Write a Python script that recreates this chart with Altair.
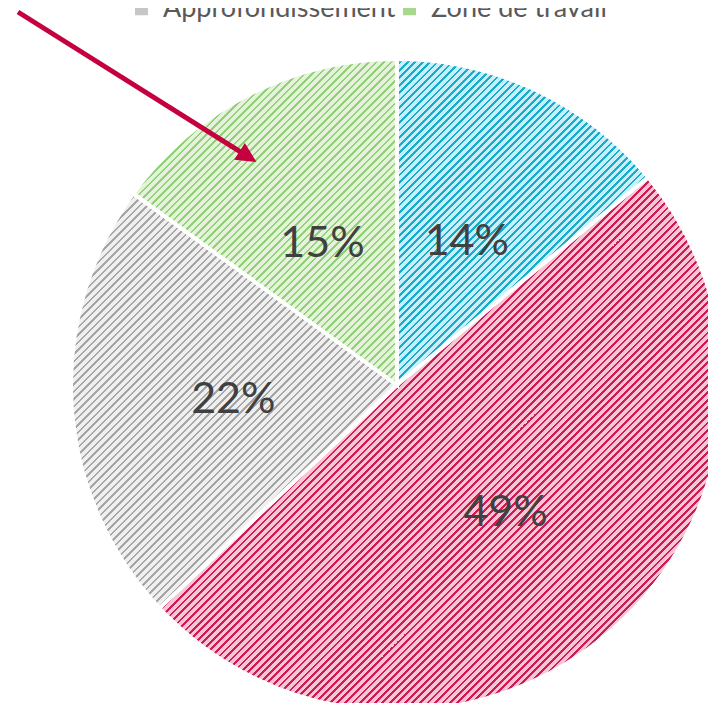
import math
import altair as alt
import pandas as pd

# ---- data ----
slice_names = ["Série 1", "Série 2", "Approfondissement", "Zone de travail"]
slice_values = [14, 49, 22, 15]
light_colors = ["#c8f0fa", "#f9c4d4", "#efefef", "#e4f3da"]
dark_colors = ["#19abcc", "#cf1a56", "#a6a6a6", "#93d07a"]
legend_names = ["Approfondissement", "Zone de travail"]
legend_colors = ["#c6c6c6", "#a6d98c"]

# ---- layout / style ----
W, H = 700, 695
CX, CY = 389, 377
R = 326
LABEL_R = 164
ARROW_COLOR = "#c5003e"
ARROW_START = (10, 4)
ARROW_HEAD = (240, 148.7)
ARROW_ANGLE = 32.1


def slice_bbox(a0, a1, r):
    pts = [(0.0, 0.0), (r * math.sin(a0), -r * math.cos(a0)), (r * math.sin(a1), -r * math.cos(a1))]
    for q in range(5):
        ang = q * math.pi / 2
        if a0 < ang < a1:
            pts.append((r * math.sin(ang), -r * math.cos(ang)))
    xs = [p[0] for p in pts]
    ys = [p[1] for p in pts]
    return max(xs) - min(xs), max(ys) - min(ys)


def hatch(light, dark, bw, bh, period=7.5, frac=0.34):
    k = (bw + bh) / (bw ** 2 + bh ** 2)
    n = (bw + bh) / period
    stops = []
    i = 0
    while True:
        a = i / n
        b = (i + 1 - frac) / n
        c = (i + 1) / n
        if a >= 1:
            break
        stops.append({"offset": round(a, 5), "color": light})
        stops.append({"offset": round(min(b, 1), 5), "color": light})
        if b < 1:
            stops.append({"offset": round(b, 5), "color": dark})
            stops.append({"offset": round(min(c, 1), 5), "color": dark})
        i += 1
    return {"gradient": "linear", "x1": 0, "y1": 0, "x2": k * bw, "y2": k * bh, "stops": stops}


total = sum(slice_values)
grads = []
acc = 0
for v, lc, dc in zip(slice_values, light_colors, dark_colors):
    a0 = acc / total * 2 * math.pi
    acc += v
    a1 = acc / total * 2 * math.pi
    bw, bh = slice_bbox(a0, a1, R)
    grads.append(hatch(lc, dc, bw, bh))

pie_df = pd.DataFrame({
    "idx": list(range(len(slice_names))),
    "cat": slice_names,
    "val": slice_values,
})

conds = [{"test": f"datum.idx === {i}", "value": grads[i]} for i in range(len(grads) - 1)]

base = alt.Chart(pie_df).encode(
    theta=alt.Theta("val:Q", stack=True),
    order=alt.Order("idx:Q"),
    detail="cat:N",
    x=alt.value(CX),
    y=alt.value(CY),
)

pie = base.mark_arc(radius=R, stroke="white", strokeWidth=4).encode(
    fill=alt.value(grads[-1], condition=conds)
)

labels = base.mark_text(
    radius=LABEL_R, font="Lato", fontSize=43, color="#404040",
    align="center", baseline="middle", dy=5,
).transform_calculate(label="datum.val + '%'").encode(text="label:N")

legend_df = pd.DataFrame({"name": legend_names})
legend_layer = alt.Chart(legend_df).mark_square(size=50).encode(
    x=alt.value(-100),
    y=alt.value(-100),
    color=alt.Color(
        "name:N",
        scale=alt.Scale(domain=legend_names, range=legend_colors),
        legend=alt.Legend(
            title=None, orient="none", legendX=120, legendY=-13,
            direction="horizontal", symbolType="square", symbolSize=169,
            symbolStrokeWidth=0, symbolOpacity=1, labelFont="Lato",
            labelFontSize=27, labelColor="#595959", labelOffset=8,
            labelLimit=0, columnPadding=0, padding=0,
        ),
    ),
)

one = pd.DataFrame({"a": [0]})
arrow_line = alt.Chart(one).mark_rule(color=ARROW_COLOR, strokeWidth=5).encode(
    x=alt.value(ARROW_START[0]), y=alt.value(ARROW_START[1]),
    x2=alt.value(ARROW_HEAD[0]), y2=alt.value(ARROW_HEAD[1]),
)
arrow_head = alt.Chart(one).mark_point(
    shape="M-1,-1L1,0L-1,1Z", filled=True, size=400, angle=ARROW_ANGLE,
    color=ARROW_COLOR, opacity=1,
).encode(x=alt.value(ARROW_HEAD[0]), y=alt.value(ARROW_HEAD[1]))

chart = alt.layer(pie, labels, legend_layer, arrow_line, arrow_head).properties(
    width=W, height=H,
    autosize=alt.AutoSizeParams(type="none"),
    padding=0,
    background="white",
).configure_view(stroke=None)

chart.save("out.html", embed_options={"renderer": "svg", "actions": False})
